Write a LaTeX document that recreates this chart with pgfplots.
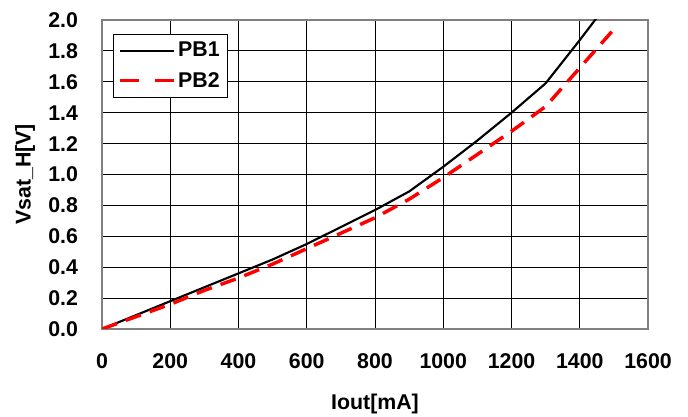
\documentclass[border=0pt]{standalone}
\usepackage{fontspec}
\setmainfont{Liberation Sans}
\newfontfamily\bsans{Liberation Sans Bold}
\usepackage{pgfplots}
\pgfplotsset{compat=1.18}
\begin{document}
\begin{tikzpicture}
\begin{axis}[
  scale only axis,
  width=409.5pt, height=231.75pt,
  xmin=0, xmax=1600, ymin=0, ymax=2.0,
  xtick={0,200,...,1600},
  ytick={0,0.2,...,2.0},
  /pgf/number format/assume math mode=true,
  /pgf/number format/1000 sep={},
  yticklabel style={/pgf/number format/fixed,/pgf/number format/fixed zerofill,/pgf/number format/precision=1},
  scaled y ticks=false,
  ticklabel style={font=\fontsize{16}{19}\bsans},
  label style={font=\fontsize{16}{19}\bsans},
  xlabel={Iout[mA]}, ylabel={Vsat\_H[V]},
  xlabel style={yshift=-12pt},
  ylabel style={yshift=3pt},
  major tick length=0pt,
  grid=major,
  major grid style={black, line width=0.6pt},
  axis line style={gray, line width=1.5pt},
  legend style={at={(0.02,0.955)}, anchor=north west, draw=black, line width=0.6pt,
    font=\fontsize{16}{19}\bsans, row sep=6pt, inner sep=4pt,
    legend cell align=left},
  legend image code/.code={\draw[#1] (0pt,0pt) -- (40pt,0pt);},
  xticklabel style={yshift=-15pt},
  yticklabel style={xshift=-14.5pt},
]
\addplot[black, line width=1.6pt] coordinates {
(0,0.0) (100,0.09) (200,0.18) (300,0.27) (400,0.36) (500,0.45) (600,0.55) (700,0.66) (800,0.77) (900,0.89) (1000,1.05) (1100,1.22) (1200,1.40) (1300,1.59) (1400,1.87) (1500,2.16)};
\addlegendentry{PB1}
\addplot[red, line width=2.6pt, dash pattern=on 12pt off 7pt,
  legend image code/.code={\draw[red, line width=2.6pt, dash pattern=on 14pt off 12pt] (0pt,0pt) -- (40pt,0pt);}] coordinates {
(0,0.0) (100,0.08) (200,0.16) (300,0.25) (400,0.33) (500,0.42) (600,0.52) (700,0.62) (800,0.72) (900,0.84) (1000,0.98) (1100,1.13) (1200,1.28) (1300,1.44) (1400,1.69) (1500,1.94)};
\addlegendentry{PB2}
\end{axis}
\pgfresetboundingbox
\path (current axis.south west) ++(-76.5pt,-66pt) rectangle ++(516pt,312.75pt);
\end{tikzpicture}
\end{document}
